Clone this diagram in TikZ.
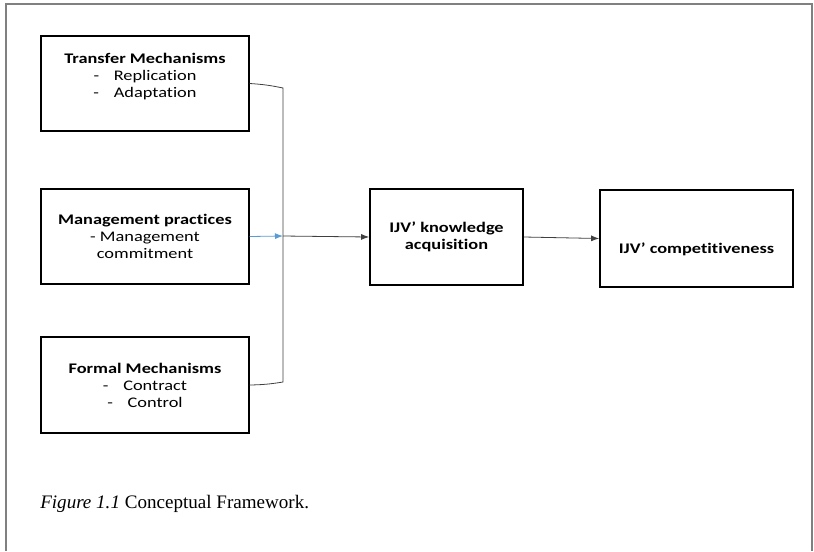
\documentclass[tikz,border=0pt]{standalone}
\usepackage{fontspec}
\setmainfont{Liberation Serif}
\newfontfamily\boxfont[FakeStretch=1.25,Ligatures=NoCommon]{Carlito}
\usetikzlibrary{arrows.meta}

\tikzset{
 fbox/.style={draw=black,line width=1.1pt,align=center,inner sep=2pt,
  font=\boxfont\fontsize{11}{12.75}\selectfont},
 link/.style={draw=black!75,line width=0.6pt},
 tip/.style={-{Latex[length=6pt,width=4.5pt]}}
}

\begin{document}
\begin{tikzpicture}[x=0.75pt,y=-0.75pt]
 \useasboundingbox (0,0) rectangle (814,551);
 \draw[gray,line width=1.1pt](6,551)--(6,4)--(812,4)--(812,551); 
 % left column
 \node[fbox,minimum width=156pt,minimum height=71pt] (tm) at (145,83.5)
  {\textbf{Transfer Mechanisms}\\-\quad Replication\\-\quad Adaptation\\\mbox{}};
 \node[fbox,minimum width=156pt,minimum height=71pt] (mp) at (145,236.5)
  {\textbf{Management practices}\\- Management\\commitment};
 \node[fbox,minimum width=156pt,minimum height=72pt] (fm) at (145,385)
  {\textbf{Formal Mechanisms}\\-\quad Contract\\-\quad Control};
 % right side
 \node[fbox,minimum width=115pt,minimum height=72pt] (ka) at (446.5,237)
  {\textbf{IJV’ knowledge}\\\textbf{acquisition}};
 \node[fbox,minimum width=145pt,minimum height=73pt] (cp) at (696.5,238.5)
  {\strut\\[2pt]\textbf{IJV’ competitiveness}};
 \coordinate (jtop) at (283,88);
 \coordinate (jmid) at (283,236);
 \coordinate (jbot) at (283,382);
 \draw[link](tm.east) to[bend left=4] (jtop) -- (jbot) to[bend left=4] (fm.east); 
 \draw[tip,draw={rgb,255:red,91;green,155;blue,213},line width=0.6pt](mp.east)--(jmid); 
 \draw[link,tip](jmid)--(ka.west); 
 \draw[link,tip](ka.east)--(cp.west); 
 \node[anchor=base west,inner sep=0pt,font=\fontsize{14.3}{16}\selectfont] (cap) at (40,508)
  {\textit{Figure 1.1} Conceptual Framework.};
\end{tikzpicture}
\end{document}
